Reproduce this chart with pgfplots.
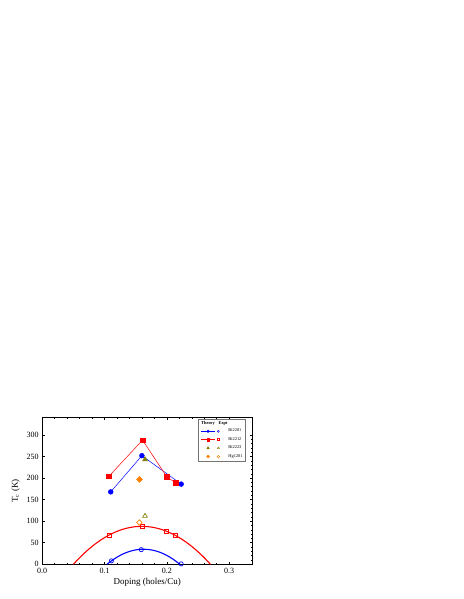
\documentclass[border=0pt]{standalone}
\usepackage{fontspec}
\setmainfont{Liberation Serif}
\usepackage{pgfplots}
\pgfplotsset{compat=1.18}
\definecolor{myred}{RGB}{255,0,0}
\definecolor{myblue}{RGB}{0,0,255}
\definecolor{myolive}{RGB}{128,128,0}
\definecolor{myorange}{RGB}{255,128,0}
\begin{document}
\begin{tikzpicture}
\begin{axis}[
  at={(0,0)}, anchor=south west,
  scale only axis, width=210pt, height=147pt,
  xmin=0, xmax=0.337, ymin=0, ymax=341,
  xtick={0,0.1,0.2,0.3}, ytick={0,50,100,150,200,250,300},
  minor x tick num=4, minor y tick num=4,
  tick align=inside,
  major tick length=2.5pt, minor tick length=1.3pt,
  axis line style={line width=0.6pt},
  every tick/.style={black, line width=0.5pt},
  /pgf/number format/assume math mode=true,
  ticklabel style={font=\fontsize{8}{9}\selectfont},
  x tick label style={/pgf/number format/.cd, fixed, fixed zerofill, precision=1},
  label style={font=\fontsize{9}{10}\selectfont},
  xlabel={Doping (holes/Cu)},
  ylabel={T\textsubscript{c} (K)},
  xlabel style={yshift=2pt},
  legend columns=2,
  legend cell align=left,
  legend image code/.code={\draw[mark repeat=2,mark phase=2,#1] plot coordinates {(0cm,0cm) (0.25cm,0cm) (0.5cm,0cm)};},
  legend style={at={(0.969,0.988)}, anchor=north east, draw=black!55, line width=0.5pt,
    font=\fontsize{4.4}{5}\selectfont, inner sep=2pt, row sep=2.4pt,
    nodes={inner sep=0.8pt}},
]
% legend
\addlegendimage{legend image code/.code={\node[inner sep=0pt, anchor=west] at (0cm,0cm) {\bfseries Theory};}}
\addlegendentry{}
\addlegendimage{legend image code/.code={\node[inner sep=0pt] at (0.25cm,0cm) {\bfseries Expt};}}
\addlegendentry{}
\addlegendimage{myblue, line width=0.5pt, mark=*, mark size=1.2pt}
\addlegendentry{}
\addlegendimage{only marks, myblue, mark=o, mark size=1.1pt, mark options={line width=0.4pt}}
\addlegendentry{Bi2201}
\addlegendimage{myred, line width=0.5pt, mark=square*, mark size=1.1pt}
\addlegendentry{}
\addlegendimage{only marks, myred, mark=square, mark size=1.0pt, mark options={line width=0.4pt}}
\addlegendentry{Bi2212}
\addlegendimage{only marks, myolive, mark=triangle*, mark size=1.4pt}
\addlegendentry{}
\addlegendimage{only marks, myolive, mark=triangle, mark size=1.3pt, mark options={line width=0.4pt}}
\addlegendentry{Bi2223}
\addlegendimage{only marks, myorange, mark=square*, mark size=1.0pt, mark options={rotate=45}}
\addlegendentry{}
\addlegendimage{only marks, myorange, mark=square, mark size=0.95pt, mark options={rotate=45, line width=0.4pt}}
\addlegendentry{Hg1201}

% fit curves (experimental domes)
\addplot[myred, line width=1.1pt, smooth, forget plot] coordinates {
(0.05,0) (0.06,15.3) (0.07,29.1) (0.08,41.5) (0.09,52.4) (0.10,61.8) (0.11,69.8)
(0.12,76.4) (0.13,81.5) (0.14,85.1) (0.15,87.3) (0.16,88) (0.17,87.3) (0.18,85.1)
(0.19,81.5) (0.20,76.4) (0.21,69.8) (0.22,61.8) (0.23,52.4) (0.24,41.5) (0.25,29.1)
(0.26,15.3) (0.27,0)};
\addplot[myblue, line width=1.1pt, smooth, forget plot] coordinates {
(0.104,0) (0.11,6.8) (0.12,16.5) (0.13,24.2) (0.14,29.8) (0.15,33.4) (0.16,34.9)
(0.17,34.4) (0.18,31.9) (0.19,27.3) (0.20,20.6) (0.21,11.9) (0.221,0)};

% theory
\addplot[myblue, line width=0.5pt, mark=*, mark size=2.4pt, forget plot] coordinates {
(0.11,168) (0.16,252) (0.223,186)};
\addplot[myred, line width=0.5pt, mark=square*, mark size=2.3pt, forget plot] coordinates {
(0.107,204) (0.161,288) (0.20,203) (0.214,189)};
\addplot[only marks, myolive, mark=triangle*, mark size=2.9pt, forget plot] coordinates {(0.165,243)};
\addplot[only marks, myorange, mark=square*, mark size=2.1pt, mark options={rotate=45}, forget plot] coordinates {(0.156,197)};

% experiment
\addplot[only marks, myblue, mark=o, mark size=2.1pt, mark options={fill=white, line width=0.7pt}, forget plot] coordinates {
(0.111,8) (0.159,34) (0.223,1)};
\addplot[only marks, myred, mark=square, mark size=2.0pt, mark options={fill=white, line width=0.7pt}, forget plot] coordinates {
(0.107,66) (0.161,88) (0.20,76) (0.214,67)};
\addplot[only marks, myolive, mark=triangle, mark size=2.7pt, mark options={fill=white, line width=0.7pt}, forget plot] coordinates {(0.165,112)};
\addplot[only marks, myorange, mark=square, mark size=1.9pt, mark options={rotate=45, fill=white, line width=0.7pt}, forget plot] coordinates {(0.156,97)};
\end{axis}
\path (-42.2pt,-34.7pt) rectangle (420.8pt,564.3pt);
\end{tikzpicture}
\end{document}
